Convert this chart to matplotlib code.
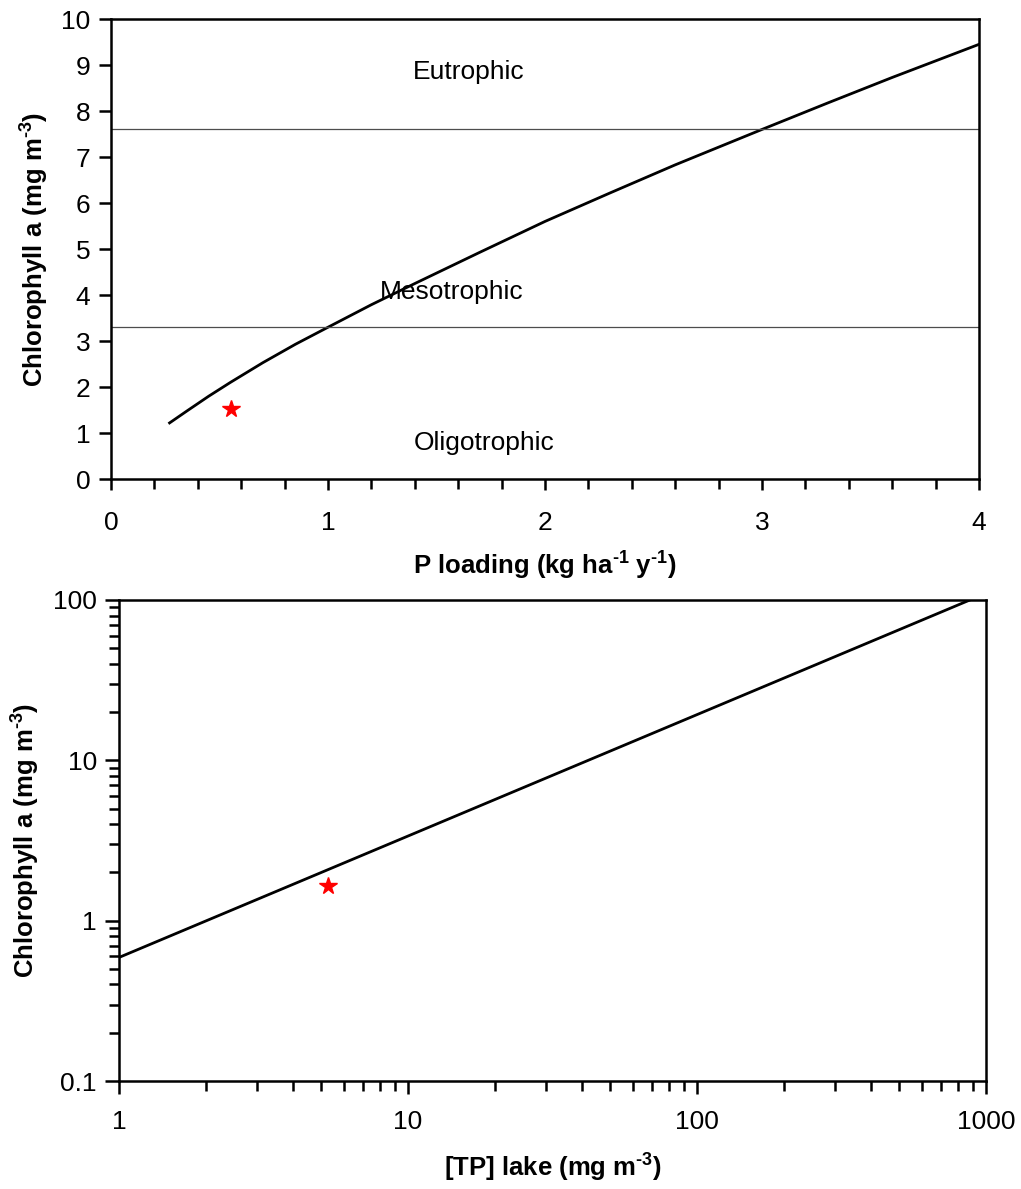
import numpy as np
import matplotlib
matplotlib.use("Agg")
import matplotlib.pyplot as plt
from matplotlib.ticker import MultipleLocator, LogLocator, FixedLocator, NullFormatter

plt.rcParams["font.family"] = ["Liberation Sans", "DejaVu Sans"]
# superscripts only appear in the bold axis labels
plt.rcParams["mathtext.fontset"] = "custom"
plt.rcParams["mathtext.rm"] = "Liberation Sans:bold"
plt.rcParams["mathtext.bf"] = "Liberation Sans:bold"
plt.rcParams["mathtext.default"] = "rm"

# top panel: P loading vs chlorophyll
p_load = [0.27, 0.35, 0.45, 0.55, 0.7, 0.85, 1.0, 1.2, 1.4, 1.7,
          2.0, 2.3, 2.6, 3.0, 3.3, 3.6, 4.0]
chl_load = [1.22, 1.48, 1.80, 2.10, 2.53, 2.93, 3.30, 3.79, 4.25, 4.93,
            5.60, 6.22, 6.83, 7.60, 8.17, 8.73, 9.45]
thresholds = [7.6, 3.3]
lake_load = [0.555]
lake_chl_top = [1.52]
zone_names = ["Eutrophic", "Mesotrophic", "Oligotrophic"]
zone_x = [1.65, 1.57, 1.72]
zone_y = [8.85, 4.07, 0.78]

# bottom panel: TP vs chlorophyll (log-log line)
tp = [1.0, 880.0]
chl_tp = [0.59, 100.0]
lake_tp = [5.3]
lake_chl_bot = [1.65]

TICK_FS = 19
LABEL_FS = 18.5

fig = plt.figure(figsize=(10.21, 11.89), dpi=100)

ax1 = fig.add_axes([0.1087, 0.5971, 0.8502, 0.3869])
ax1.plot(p_load, chl_load, color="black", lw=2.0, solid_joinstyle="round")
for t in thresholds:
    ax1.axhline(t, color="0.3", lw=0.9)
ax1.plot(lake_load, lake_chl_top, marker="*", color="red", ms=13, ls="none")
for name, x, y in zip(zone_names, zone_x, zone_y):
    ax1.text(x, y, name, ha="center", va="center", fontsize=19)
ax1.set_xlim(0, 4)
ax1.set_ylim(0, 10)
ax1.xaxis.set_major_locator(MultipleLocator(1))
ax1.xaxis.set_minor_locator(MultipleLocator(0.2))
ax1.yaxis.set_major_locator(MultipleLocator(1))
ax1.tick_params(axis="x", which="major", direction="out", length=8, width=1.8,
                labelsize=TICK_FS, pad=15, top=False)
ax1.tick_params(axis="x", which="minor", direction="out", length=7, width=1.8, top=False)
ax1.tick_params(axis="y", which="major", direction="out", length=9, width=1.8,
                labelsize=TICK_FS, pad=6, right=False)
ax1.set_xlabel(r"P loading (kg ha$^{\text{-1}}$ y$^{\text{-1}}$)", fontsize=LABEL_FS,
               fontweight="bold", labelpad=11)
ax1.set_ylabel(r"Chlorophyll a (mg m$^{\text{-3}}$)", fontsize=LABEL_FS,
               fontweight="bold", labelpad=7)
for sp in ax1.spines.values():
    sp.set_linewidth(1.8)

ax2 = fig.add_axes([0.1166, 0.0908, 0.8491, 0.4046])
ax2.set_xscale("log")
ax2.set_yscale("log")
ax2.plot(tp, chl_tp, color="black", lw=2.0)
ax2.plot(lake_tp, lake_chl_bot, marker="*", color="red", ms=13, ls="none")
ax2.set_xlim(1, 1000)
ax2.set_ylim(0.1, 100)
ax2.xaxis.set_major_locator(FixedLocator([1, 10, 100, 1000]))
ax2.xaxis.set_major_formatter(plt.FuncFormatter(lambda v, p: f"{v:g}"))
ax2.yaxis.set_major_locator(FixedLocator([0.1, 1, 10, 100]))
ax2.yaxis.set_major_formatter(plt.FuncFormatter(lambda v, p: f"{v:g}"))
ax2.xaxis.set_minor_locator(LogLocator(base=10, subs=np.arange(2, 10), numticks=20))
ax2.yaxis.set_minor_locator(LogLocator(base=10, subs=np.arange(2, 10), numticks=20))
ax2.xaxis.set_minor_formatter(NullFormatter())
ax2.yaxis.set_minor_formatter(NullFormatter())
ax2.tick_params(axis="x", which="major", direction="out", length=9, width=1.8,
                labelsize=TICK_FS, pad=12, top=False)
ax2.tick_params(axis="x", which="minor", direction="out", length=7, width=1.8, top=False)
ax2.tick_params(axis="y", which="major", direction="out", length=10, width=1.8,
                labelsize=TICK_FS, pad=6, right=False)
ax2.tick_params(axis="y", which="minor", direction="out", length=7, width=1.8, right=False)
ax2.set_xlabel(r"[TP] lake (mg m$^{\text{-3}}$)", fontsize=LABEL_FS, fontweight="bold",
               labelpad=13)
ax2.set_ylabel(r"Chlorophyll a (mg m$^{\text{-3}}$)", fontsize=LABEL_FS,
               fontweight="bold", labelpad=8)
for sp in ax2.spines.values():
    sp.set_linewidth(1.8)

fig.savefig("out.png", dpi=100)
